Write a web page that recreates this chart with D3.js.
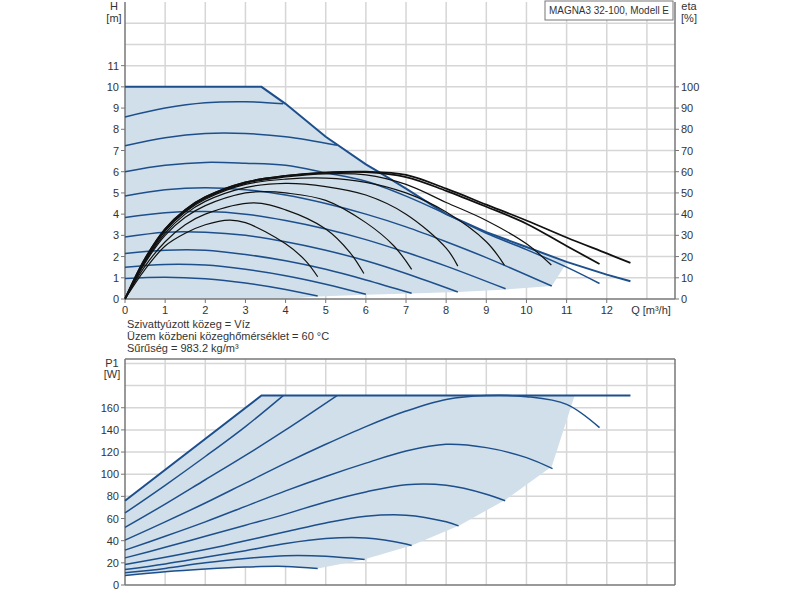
<!DOCTYPE html>
<html>
<head>
<meta charset="utf-8">
<script src="https://cdn.jsdelivr.net/npm/d3@7"></script>
<style>
  body { margin: 0; background: #fff; }
  text { font-family: "Liberation Sans", Arial, sans-serif; font-size: 11px; fill: #333; }
</style>
</head>
<body>
<div id="chart"></div>
<script>
// Q-H speed curves [Q, H], top (max) first
var hCurves = [
  [[0,10],[3.4,10],[4,9.2],[5,7.65],[6,6.35],[6.35,5.96],[7,5.2],[8,4.0],[9,3.15],[10,2.45],[11,1.75],[12,1.15],[12.59,0.84]],
  [[0,8.58],[1,9.0],[2,9.25],[3,9.3],[3.94,9.2]],
  [[0,7.22],[1,7.6],[2,7.8],[3,7.8],[4,7.65],[5.28,7.25]],
  [[0,6.0],[1,6.3],[2,6.44],[3,6.4],[4,6.3],[5,5.95],[6,5.55],[7,4.85],[8,4.0],[9,3.1],[10,2.33],[11,1.5],[11.82,0.73]],
  [[0,4.86],[1,5.15],[2,5.25],[3,5.15],[4,4.9],[5,4.5],[6,4.0],[7,3.4],[8,2.7],[9,1.95],[10.63,0.61]],
  [[0,3.84],[1,4.07],[2,4.12],[3,4.0],[4,3.7],[5,3.3],[6,2.8],[7,2.2],[8,1.55],[9.48,0.48]],
  [[0,2.92],[1,3.15],[2,3.15],[3,3.0],[4,2.7],[5,2.3],[6,1.8],[7,1.2],[8.29,0.33]],
  [[0,2.15],[1,2.3],[2,2.3],[3,2.1],[4,1.8],[5,1.4],[6,0.9],[7.14,0.27]],
  [[0,1.5],[1,1.63],[2,1.6],[3,1.4],[4,1.1],[5,0.7],[6,0.22]],
  [[0,0.97],[1,1.03],[2,0.95],[3,0.75],[4,0.45],[4.8,0.14]]
];
var hAreaBottom = [[11,1.7],[10.63,0.61],[9.5,0.45],[8.3,0.33],[7.1,0.26],[6,0.2],[4.8,0.12],[4,0],[0,0]];

// efficiency curves [Q, eta %]
var etaCurves = [
  [[0,0],[0.5,19],[1,33],[1.5,42],[2,48],[3,55],[4,58],[5,59.6],[6,60],[7,58.5],[8,52],[9,44.5],[10,37],[11,29],[12,21.5],[12.59,17]],
  [[0,0],[0.5,19],[1,33],[1.5,42],[2,48],[3,55],[4,58],[5,59.6],[6,59.8],[7,57.5],[8,51],[9,43.5],[10,35.5],[11,25],[11.82,16.5]],
  [[0,0],[0.5,18.5],[1,32.5],[1.5,41.5],[2,47.5],[3,54.5],[4,57.5],[5,59],[6,58.5],[7,54],[8,45.5],[9,37],[10,26],[10.62,16]],
  [[0,0],[0.5,18],[1,32],[1.5,41],[2,47],[3,54],[4,56.5],[5,57],[6,55],[7,50],[8,41],[9,27],[9.45,16]],
  [[0,0],[0.5,17.5],[1,31],[1.5,40],[2,46],[3,52.5],[4,54.5],[5,53],[6,49],[7,40],[8,24],[8.29,15.5]],
  [[0,0],[0.5,17],[1,30],[1.5,38.5],[2,44],[3,50],[3.5,50.6],[4,50],[5,46.5],[6,36],[6.7,25],[7.14,14]],
  [[0,0],[0.5,15.5],[1,27],[1.5,35],[2,40],[3.2,45.3],[4,42],[5,33],[5.6,22],[5.95,12]],
  [[0,0],[0.5,14],[1,25],[1.5,31],[2,35],[2.6,37.2],[3,36],[4,26],[4.5,18],[4.8,10.5]]
];

// power curves [Q, P1 W]
var pCurves = [
  [[0,76],[3.4,171],[12.59,171]],
  [[0,65],[1,90],[2,116],[3,143],[3.94,171]],
  [[0,52],[1,73],[2,95],[3,117],[4,140],[5.28,171]],
  [[0,40.5],[1,57],[2,74],[3,92],[4,110],[5,127],[6,143],[7,157],[8,167.5],[9,171],[10,170],[11,163],[11.82,142]],
  [[0,31.5],[1,44],[2,57],[3,71],[4,85],[5,98],[6,110],[7,121],[8,127],[9,124],[10,115],[10.65,105]],
  [[0,24.5],[1,34],[2,44],[3,54],[4,64],[5,75],[6,84],[7,90.5],[8,90],[9,82],[9.47,76]],
  [[0,18.5],[1,25],[2,32],[3,40],[4,48],[5,56],[6,62],[7,63],[8,57],[8.31,53.4]],
  [[0,14],[1,19],[2,25],[3,31],[4,37.5],[5,42],[6,42.5],[7,37],[7.14,35.6]],
  [[0,11],[1,15],[2,20],[3,24],[4,26.5],[5,26],[5.97,23]],
  [[0,8.5],[1,12],[2,14.5],[3,16.3],[4,16.8],[4.8,15]]
];
var pAreaRight = [[11.2,171],[10.63,107],[9.48,77],[8.34,54],[7.14,35.6],[5.95,23],[4.8,15]];

var qTicks = [0,1,2,3,4,5,6,7,8,9,10,11,12];
var hTicks = [0,1,2,3,4,5,6,7,8,9,10,11];
var etaTicks = [0,10,20,30,40,50,60,70,80,90,100];
var pTicks = [0,20,40,60,80,100,120,140,160];
var infoLines = ["Szivattyúzott közeg = Víz", "Üzem közbeni közeghőmérséklet = 60 °C", "Sűrűség = 983.2 kg/m³"];

var blue = "#1d4f8c", shade = "#d0dfe9", grid = "#d6d6d6", axisCol = "#777";

var svg = d3.select("#chart").append("svg").attr("width", 800).attr("height", 600);

var x = d3.scaleLinear().domain([0, 13.7]).range([125, 675]);
var yH = d3.scaleLinear().domain([0, 14]).range([299, 2]);
var yE = d3.scaleLinear().domain([0, 140]).range([299, 2]);
var yP = d3.scaleLinear().domain([0, 204]).range([585, 359]);

function drawGrid(y, yMax, step) {
  var g = svg.append("g");
  d3.range(1, 14).forEach(function(q) {
    g.append("line").attr("x1", x(q)).attr("x2", x(q)).attr("y1", y.range()[0]).attr("y2", y.range()[1])
      .attr("stroke", grid).attr("stroke-width", 1.5);
  });
  d3.range(step, yMax + 0.001, step).forEach(function(v) {
    g.append("line").attr("x1", x(0)).attr("x2", x(13.7)).attr("y1", y(v)).attr("y2", y(v))
      .attr("stroke", grid).attr("stroke-width", 1.5);
  });
}
drawGrid(yH, 13, 1);
drawGrid(yP, 200, 20);

var smooth = d3.curveCatmullRom.alpha(0.5);
var lineH = d3.line().x(d => x(d[0])).y(d => yH(d[1])).curve(smooth);
var lineE = d3.line().x(d => x(d[0])).y(d => yE(d[1])).curve(smooth);
var lineP = d3.line().x(d => x(d[0])).y(d => yP(d[1])).curve(smooth);
var lineHLin = d3.line().x(d => x(d[0])).y(d => yH(d[1]));

// shaded operating areas
var hTop = hCurves[0].filter(d => d[0] < 11);
svg.append("path").attr("d", lineHLin(hTop.concat(hAreaBottom)) + "Z").attr("fill", shade);
var pPoly = [[0,76],[3.4,171]].concat(pAreaRight).concat(pCurves[9].slice().reverse().slice(1));
svg.append("path").attr("d", d3.line().x(d => x(d[0])).y(d => yP(d[1]))(pPoly) + "Z").attr("fill", shade);

// axes frame
function frame(y) {
  var r = y.range();
  svg.append("line").attr("x1", x(0)).attr("x2", x(0)).attr("y1", r[0]).attr("y2", r[1]).attr("stroke", axisCol).attr("stroke-width", 1.5);
  svg.append("line").attr("x1", x(13.7)).attr("x2", x(13.7)).attr("y1", r[0]).attr("y2", r[1]).attr("stroke", axisCol).attr("stroke-width", 1.5);
  svg.append("line").attr("x1", x(0)).attr("x2", x(13.7)).attr("y1", r[0]).attr("y2", r[0]).attr("stroke", axisCol).attr("stroke-width", 1.5);
}
frame(yH);
frame(yP);
svg.append("line").attr("x1", x(0)).attr("x2", x(13.7)).attr("y1", yP.range()[1]).attr("y2", yP.range()[1]).attr("stroke", axisCol).attr("stroke-width", 1.5);

// curves
hCurves.forEach(function(c, i) {
  svg.append("path").attr("d", i === 0 ? lineHLin(c) : lineH(c)).attr("fill", "none")
    .attr("stroke", blue).attr("stroke-width", i === 0 ? 2 : 1.5);
});
etaCurves.slice().reverse().forEach(function(c, i) {
  svg.append("path").attr("d", lineE(c)).attr("fill", "none")
    .attr("stroke", "#111").attr("stroke-width", i >= 6 ? 1.8 : 1.2);
});
pCurves.forEach(function(c, i) {
  svg.append("path").attr("d", i === 0 ? d3.line().x(d => x(d[0])).y(d => yP(d[1]))(c) : lineP(c)).attr("fill", "none")
    .attr("stroke", blue).attr("stroke-width", i === 0 ? 2 : 1.5);
});

// tick labels
function ticksLeft(y, vals) {
  vals.forEach(function(v) {
    svg.append("line").attr("x1", x(0) - 4).attr("x2", x(0)).attr("y1", y(v)).attr("y2", y(v)).attr("stroke", axisCol);
    svg.append("text").attr("x", x(0) - 6).attr("y", y(v) + 4).attr("text-anchor", "end").text(v);
  });
}
ticksLeft(yH, hTicks);
ticksLeft(yP, pTicks);
etaTicks.forEach(function(v) {
  svg.append("line").attr("x1", x(13.7)).attr("x2", x(13.7) + 4).attr("y1", yE(v)).attr("y2", yE(v)).attr("stroke", axisCol);
  svg.append("text").attr("x", x(13.7) + 6).attr("y", yE(v) + 4).text(v);
});
qTicks.forEach(function(v) {
  svg.append("line").attr("x1", x(v)).attr("x2", x(v)).attr("y1", 299).attr("y2", 303).attr("stroke", axisCol);
  svg.append("text").attr("x", x(v)).attr("y", 314).attr("text-anchor", "middle").text(v);
});
svg.append("text").attr("x", 651).attr("y", 314).attr("text-anchor", "middle").text("Q [m³/h]");

// axis titles
svg.append("text").attr("x", 114).attr("y", 10).attr("text-anchor", "middle").text("H");
svg.append("text").attr("x", 114).attr("y", 22).attr("text-anchor", "middle").text("[m]");
svg.append("text").attr("x", 689).attr("y", 10).attr("text-anchor", "middle").text("eta");
svg.append("text").attr("x", 689).attr("y", 22).attr("text-anchor", "middle").text("[%]");
svg.append("text").attr("x", 112).attr("y", 367).attr("text-anchor", "middle").text("P1");
svg.append("text").attr("x", 112).attr("y", 378).attr("text-anchor", "middle").text("[W]");

// title box
svg.append("rect").attr("x", 545).attr("y", 1).attr("width", 128).attr("height", 19).attr("fill", "#fff").attr("stroke", axisCol);
svg.append("text").attr("x", 609).attr("y", 14).attr("text-anchor", "middle")
  .attr("textLength", 120).attr("lengthAdjust", "spacingAndGlyphs").text("MAGNA3 32-100, Modell E");

infoLines.forEach(function(t, i) {
  svg.append("text").attr("x", 127).attr("y", 328 + i * 12).text(t);
});
</script>
</body>
</html>
